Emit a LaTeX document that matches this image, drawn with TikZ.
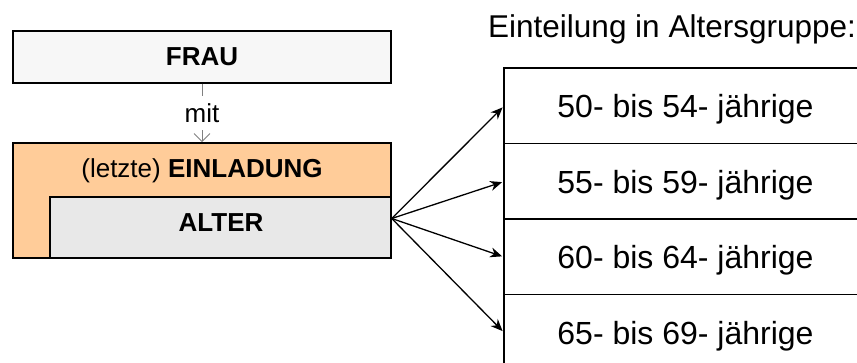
\documentclass[tikz,border=0pt]{standalone}
\usepackage{fontspec}
\setmainfont{Liberation Sans}
\usepackage{tikz}
\usetikzlibrary{positioning,arrows.meta}
\definecolor{FrauGray}{HTML}{F7F7F7}
\definecolor{InviteOrange}{HTML}{FFCC99}
\definecolor{AgeGray}{HTML}{E8E8E8}
\definecolor{LinkGray}{HTML}{808080}

\begin{document}
\begin{tikzpicture}[x=1pt,y=-1pt,
    box/.style={draw,line width=1.5pt,rectangle,inner sep=0pt},
    agegroup/.style={draw,line width=1.5pt,rectangle,outer sep=0pt,minimum width=363pt,minimum height=75.5pt,text depth=0pt,font=\fontsize{32}{38}\selectfont},
    node distance=0pt]
  \path[use as bounding box,clip] (0,0) rectangle (857,363);
  % entity boxes
  \node[box,fill=FrauGray,minimum width=378pt,minimum height=52pt,font=\fontsize{26}{31}\selectfont\bfseries] (frau) at (202,57) {FRAU};
  \node[box,fill=InviteOrange,minimum width=378pt,minimum height=115pt] (einladung) at (202,200.5) {};
  \node[box,fill=AgeGray,minimum width=341pt,minimum height=61pt] (alter) at (220.5,227.5) {};
  \node[anchor=base,font=\fontsize{26}{31}\selectfont] (einltext) at (202,178) {(letzte) \textbf{EINLADUNG}};
  \node[anchor=base,font=\fontsize{26}{31}\selectfont\bfseries] (altertext) at (221,232) {ALTER};
  % relation
  \draw[LinkGray,line width=1pt,-{Straight Barb[length=8pt,width=16pt]}] (frau) -- node[fill=white,inner sep=7.5pt,font=\fontsize{26}{31}\selectfont,text=black] (mit) {mit} (einladung);
  % age groups
  \node[anchor=base west,inner sep=0pt,font=\fontsize{31.5}{38}\selectfont] (title) at (488,38) {Einteilung in Altersgruppe:};
  \node[agegroup] (g50) at (685.5,106) {50- bis 54- jährige};
  \node[agegroup,below=of g50] (g55) {55- bis 59- jährige};
  \node[agegroup,below=of g55] (g60) {60- bis 64- jährige};
  \node[agegroup,below=of g60] (g65) {65- bis 69- jährige};
  \coordinate (fan) at ([yshift=9pt]alter.east);
  \foreach \g in {g50,g55,g60,g65}
    \draw[line width=1.3pt,-{Stealth[length=12pt,width=10pt]},shorten >=2pt] (fan) -- (\g.west);
\end{tikzpicture}
\end{document}
